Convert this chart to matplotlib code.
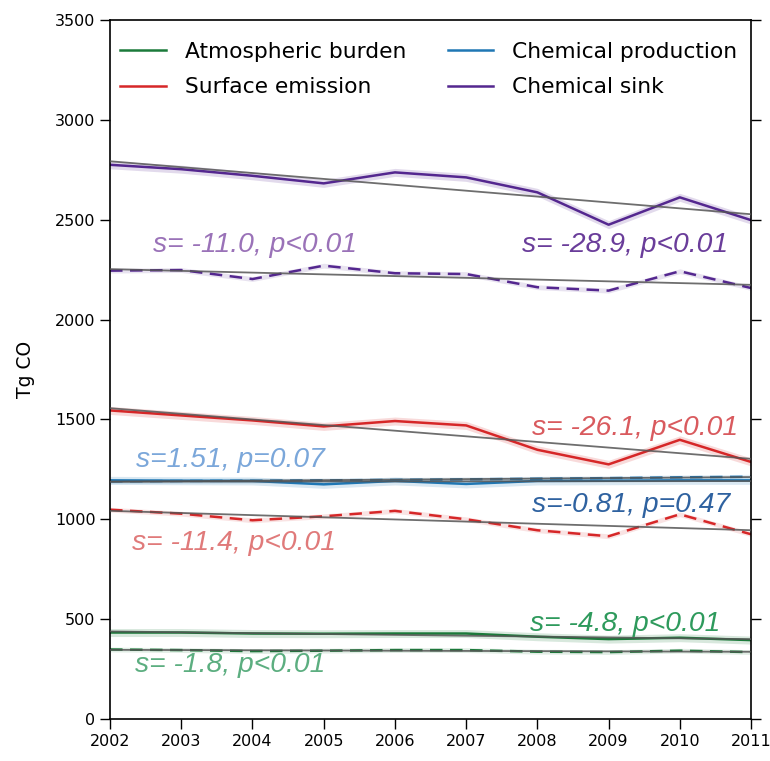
import numpy as np
import matplotlib
matplotlib.use("Agg")
import matplotlib.pyplot as plt

years = [2002, 2003, 2004, 2005, 2006, 2007, 2008, 2009, 2010, 2011]

# Solid lines (legend series)
atmos_burden = [433, 433, 428, 427, 428, 428, 412, 400, 407, 395]
surface_emission = [1545, 1520, 1495, 1465, 1492, 1470, 1348, 1275, 1398, 1287]
chem_production = [1195, 1193, 1192, 1175, 1192, 1177, 1192, 1193, 1195, 1195]
chem_sink = [2775, 2753, 2720, 2682, 2737, 2712, 2637, 2475, 2612, 2498]

# Dashed companion series
atmos_burden_d = [348, 345, 340, 342, 345, 345, 337, 335, 342, 335]
surface_emission_d = [1048, 1028, 995, 1015, 1042, 1000, 945, 915, 1025, 925]
chem_production_d = [1190, 1192, 1193, 1195, 1197, 1200, 1203, 1206, 1210, 1213]
chem_sink_d = [2245, 2248, 2203, 2270, 2232, 2228, 2162, 2145, 2242, 2158]

band = 20  # uncertainty half-width (Tg CO)

labels = ["Atmospheric burden", "Surface emission", "Chemical production", "Chemical sink"]
line_colors = ["#1b7a3a", "#d62728", "#1f77b4", "#54278f"]

# annotations: text, x (year), y (Tg CO), colour
ann_text = ["s= -11.0, p<0.01", "s= -28.9, p<0.01", "s= -26.1, p<0.01",
            "s=1.51, p=0.07", "s=-0.81, p=0.47", "s= -11.4, p<0.01",
            "s= -4.8, p<0.01", "s= -1.8, p<0.01"]
ann_x = [2002.60, 2007.78, 2007.93, 2002.37, 2007.93, 2002.31, 2007.90, 2002.35]
ann_y = [2375, 2375, 1455, 1295, 1070, 880, 475, 270]
ann_col = ["#9a72b8", "#6a3d9a", "#d95a5e", "#7ba7da", "#2f62a0", "#e07a7a",
           "#2e9a5c", "#5cae80"]

fig = plt.figure(figsize=(7.70, 7.61), dpi=100)
ax = fig.add_axes([0.1429, 0.0552, 0.8325, 0.9185])

x = np.array(years, dtype=float)
solid = [atmos_burden, surface_emission, chem_production, chem_sink]
dashed = [atmos_burden_d, surface_emission_d, chem_production_d, chem_sink_d]

handles = []
for lab, col, s, d in zip(labels, line_colors, solid, dashed):
    s = np.array(s, float)
    d = np.array(d, float)
    ax.fill_between(x, s - band, s + band, color=col, alpha=0.17, lw=0)
    ax.fill_between(x, d - band * 0.6, d + band * 0.6, color=col, alpha=0.13, lw=0)
    h, = ax.plot(x, s, color=col, lw=1.8, label=lab)
    ax.plot(x, d, color=col, lw=1.8, ls=(0, (5, 3)))
    handles.append(h)
    for series in (s, d):
        p = np.polyfit(x, series, 1)
        ax.plot(x, np.polyval(p, x), color="#555555", lw=1.3, alpha=0.85, zorder=3)

for t, tx, ty, c in zip(ann_text, ann_x, ann_y, ann_col):
    ax.text(tx, ty, t, color=c, fontsize=20.3, style="italic",
            family="Liberation Sans", ha="left", va="center")

ax.set_xlim(2002, 2011)
ax.set_ylim(0, 3500)
ax.set_xticks(years)
ax.set_xticklabels([str(y) for y in years])
ax.set_yticks(np.arange(0, 3501, 500))
ax.tick_params(direction="out", labelsize=11.5, length=7, width=1,
               right=True, top=False)
for sp in ax.spines.values():
    sp.set_linewidth(1.2)
ax.set_ylabel("Tg CO", fontsize=13.5, labelpad=14)

leg = ax.legend(handles=handles, labels=labels,
                ncol=2, loc="upper left", frameon=False, fontsize=15.7,
                handlelength=2.1, columnspacing=1.9, borderaxespad=0.0,
                borderpad=0.3, handletextpad=0.85, labelspacing=0.71,
                bbox_to_anchor=(0.006, 0.978))

fig.savefig("out.png", dpi=100)
